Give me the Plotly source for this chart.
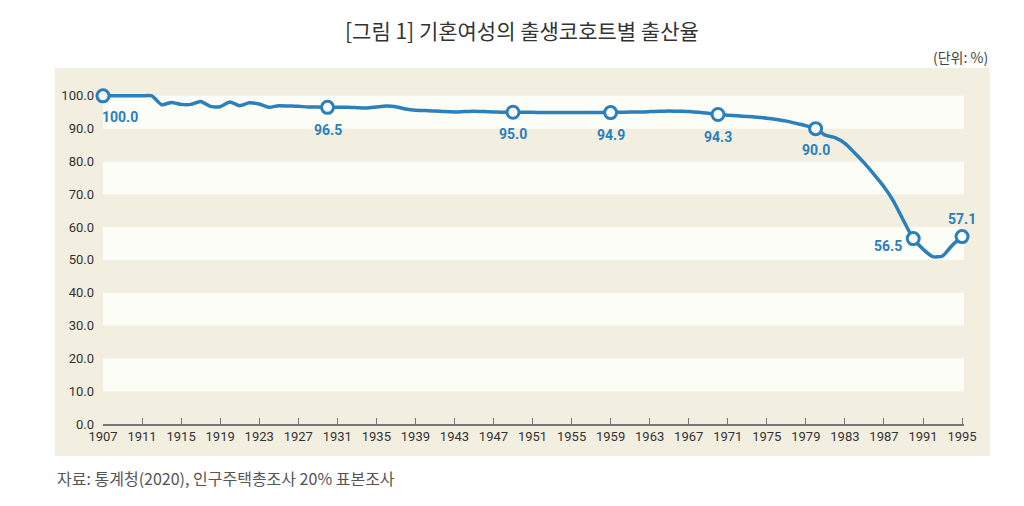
import plotly.graph_objects as go

# birth cohort years and rate (%)
years = list(range(1907, 1996))
rate = [100.0, 100.0, 100.0, 100.0, 100.0, 100.0,                 # 1907-1912
        97.3, 98.0, 97.4, 97.4, 98.3, 96.8, 96.7, 98.1, 97.0,      # 1913-1921
        97.9, 97.5, 96.5, 97.0, 96.9, 96.8, 96.6, 96.6, 96.5,      # 1922-1930
        96.5, 96.5, 96.4, 96.3, 96.6, 96.9, 96.7, 96.0, 95.6,      # 1931-1939
        95.5, 95.4, 95.2, 95.1, 95.2, 95.3, 95.2, 95.1, 95.0,      # 1940-1948
        95.0, 95.0, 95.0, 94.9, 94.9, 94.9, 94.9, 94.9, 94.9,      # 1949-1957
        94.9, 94.9, 95.0, 95.1, 95.1, 95.2, 95.3, 95.4, 95.3,      # 1958-1966
        95.2, 95.0, 94.7, 94.3, 94.1, 93.9, 93.7, 93.5, 93.2,      # 1967-1975
        92.8, 92.3, 91.6, 90.9, 90.0, 88.0, 87.3, 85.5, 82.6,      # 1976-1984
        79.5, 76.0, 72.3, 67.8, 62.0, 56.5, 53.3, 51.0, 51.2,      # 1985-1993
        54.5, 57.1]                                                # 1994-1995

mark_years = [1907, 1930, 1949, 1959, 1970, 1980, 1990, 1995]
mark_vals = [100.0, 96.5, 95.0, 94.9, 94.3, 90.0, 56.5, 57.1]
mark_text = ["100.0", "96.5", "95.0", "94.9", "94.3", "90.0", "56.5", "57.1"]

x_ticks = list(range(1907, 1996, 4))
y_ticks = list(range(0, 101, 10))

title = "[그림 1] 기혼여성의 출생코호트별 출산율"
unit = "(단위: %)"
source = "자료: 통계청(2020), 인구주택총조사 20% 표본조사"

blue = "#2b7fba"
beige = "#f2eee0"
stripe = "#fdfdf8"
kr = "Noto Sans CJK KR"
num = "Roboto"

fig = go.Figure()
fig.add_trace(go.Scatter(x=years, y=rate, mode="lines",
                         line=dict(color=blue, width=3.5, shape="spline", smoothing=0.6),
                         hoverinfo="skip"))
fig.add_trace(go.Scatter(x=mark_years, y=mark_vals, mode="markers",
                         marker=dict(size=12, color="white", line=dict(color=blue, width=3)),
                         cliponaxis=False))

# label offsets (px) relative to each marker
shifts = [(17, -21), (0, -23), (0, -22), (0, -22), (0, -22), (0, -21), (-25, -7), (0, 18)]
for x, y, t, (dx, dy) in zip(mark_years, mark_vals, mark_text, shifts):
    fig.add_annotation(x=x, y=y, text=t, showarrow=False, xshift=dx, yshift=dy,
                       font=dict(family=num, size=14, color=blue, weight="bold"))

# beige panel
fig.add_shape(type="rect", xref="paper", yref="paper", x0=-0.0557, x1=1.030, y0=-0.0947, y1=1.053,
              fillcolor=beige, line_width=0, layer="below")
# white bands
for lo in range(10, 100, 20):
    fig.add_shape(type="rect", xref="x", yref="y", x0=1907, x1=1995.2, y0=lo, y1=lo + 10,
                  fillcolor=stripe, line_width=0, layer="below")

fig.add_annotation(xref="paper", yref="paper", x=0.4866, y=1.166, text=title, showarrow=False,
                   xanchor="center", yanchor="middle", font=dict(family=kr, size=21, color="#333"))
fig.add_annotation(xref="paper", yref="paper", x=1.030, y=1.086, text=unit, showarrow=False,
                   xanchor="right", yanchor="middle", font=dict(family=kr, size=14, color="#444"))
fig.add_annotation(xref="paper", yref="paper", x=-0.0557, y=-0.16, text=source, showarrow=False,
                   xanchor="left", yanchor="middle", font=dict(family=kr, size=16, color="#555"))

fig.update_xaxes(range=[1907, 1995.2], tickvals=x_ticks, ticks="inside", ticklen=6,
                 tickcolor="#777", showline=True, linecolor="#777", linewidth=1.5,
                 showgrid=False, zeroline=False, tickfont=dict(family=num, size=13, color="#333"))
fig.update_yaxes(range=[0, 103], tickvals=y_ticks, tickformat=".1f", showgrid=False,
                 zeroline=False, ticks="", ticklabelstandoff=8,
                 tickfont=dict(family=num, size=13, color="#333"))
# page body has an 8px margin, so the figure is 8px smaller each way
fig.update_layout(width=1016, height=498, margin=dict(l=95, r=60, t=78, b=82),
                  paper_bgcolor="white", plot_bgcolor="rgba(0,0,0,0)", showlegend=False)

fig.write_html("out.html")
